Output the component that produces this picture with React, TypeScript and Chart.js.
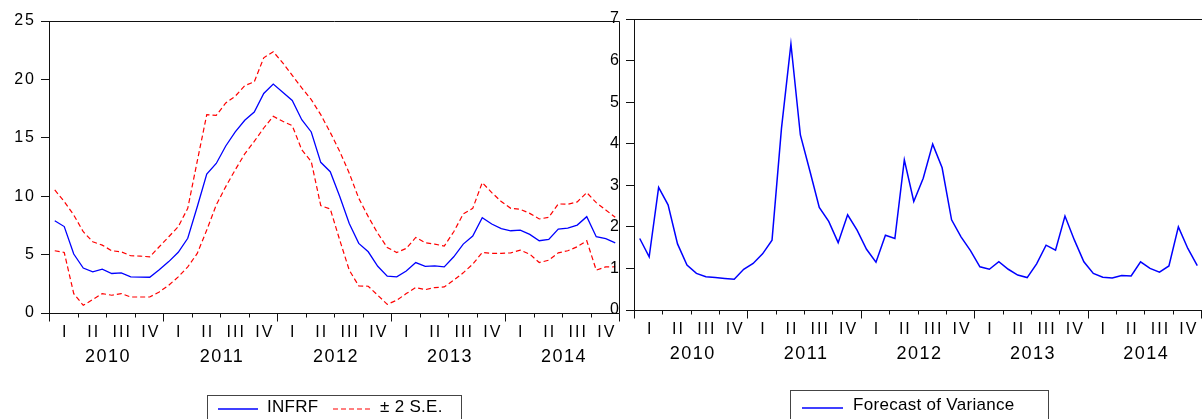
import React, { useEffect, useRef } from 'react';
import { Chart, registerables } from 'chart.js';

Chart.register(...registerables);

// ---- data ----
const years = ['2010', '2011', '2012', '2013', '2014'];
const quarterLabels = ['I', 'II', 'III', 'IV'];

const infrf = [
  7.9, 7.4, 5.05, 3.85, 3.52, 3.75, 3.38, 3.44, 3.1, 3.08, 3.06, 3.7,
  4.4, 5.2, 6.4, 9.1, 11.9, 12.8, 14.3, 15.5, 16.5, 17.2, 18.8, 19.6,
  18.9, 18.2, 16.55, 15.5, 12.9, 12.1, 9.97, 7.67, 5.96, 5.24, 4.0, 3.15,
  3.09, 3.6, 4.32, 4.0, 4.04, 3.95, 4.81, 5.9, 6.59, 8.16, 7.62, 7.22,
  7.04, 7.1, 6.73, 6.19, 6.3, 7.19, 7.27, 7.53, 8.25, 6.53, 6.36, 6.0,
];
const upperSE = [
  10.54, 9.54, 8.39, 6.96, 6.1, 5.81, 5.33, 5.24, 4.9, 4.87, 4.81, 5.67,
  6.53, 7.39, 8.96, 13.0, 16.98, 16.92, 17.98, 18.56, 19.47, 19.79, 21.85, 22.37,
  21.42, 20.35, 19.27, 18.27, 16.98, 15.46, 13.83, 11.97, 9.82, 8.25, 6.82, 5.61,
  5.18, 5.53, 6.47, 6.01, 5.9, 5.73, 6.96, 8.48, 8.96, 11.17, 10.31, 9.54,
  8.96, 8.88, 8.53, 8.05, 8.19, 9.34, 9.31, 9.51, 10.31, 9.45, 8.82, 8.2,
];
const lowerSE = [
  5.33, 5.18, 1.66, 0.66, 1.15, 1.66, 1.52, 1.66, 1.37, 1.37, 1.37, 1.8,
  2.38, 3.09, 3.95, 5.1, 7.1, 9.25, 10.82, 12.26, 13.63, 14.69, 15.84, 16.84,
  16.41, 16.04, 13.97, 12.97, 9.19, 8.91, 6.24, 3.67, 2.32, 2.29, 1.52, 0.74,
  1.09, 1.66, 2.18, 2.0, 2.18, 2.23, 2.81, 3.44, 4.18, 5.18, 5.1, 5.1,
  5.15, 5.38, 5.04, 4.32, 4.52, 5.15, 5.33, 5.67, 6.19, 3.67, 3.95, 3.96,
];
const variance = [
  1.72, 1.28, 2.95, 2.53, 1.59, 1.08, 0.88, 0.8, 0.78, 0.76, 0.74, 0.98,
  1.12, 1.35, 1.68, 4.37, 6.4, 4.21, 3.35, 2.47, 2.13, 1.62, 2.29, 1.92,
  1.46, 1.15, 1.8, 1.72, 3.61, 2.61, 3.17, 3.99, 3.42, 2.17, 1.76, 1.43,
  1.04, 0.98, 1.16, 0.98, 0.84, 0.78, 1.11, 1.56, 1.44, 2.26, 1.68, 1.16,
  0.88, 0.79, 0.77, 0.83, 0.82, 1.16, 1.0, 0.91, 1.06, 2.0, 1.48, 1.07,
];

const FONT = '"Liberation Sans", Arial, sans-serif';
const toXY = (arr: number[]) => arr.map((v, i) => ({ x: i + 0.5, y: v }));
const crisp = (v: number) => Math.round(v) + 0.5;

const spacingPlugin = {
  id: 'eviewsSpacing',
  beforeDraw(chart: any) {
    (chart.ctx as any).letterSpacing = '2px';
  },
};

const framePlugin = {
  id: 'eviewsFrame',
  afterDraw(chart: any, _args: any, opts: any) {
    const { ctx, chartArea: a, scales } = chart;
    const xs = scales.x;
    const L = crisp(a.left - 1);
    const R = crisp(a.right - 1);
    const T = crisp(a.top);
    const B = crisp(a.bottom);
    ctx.save();
    ctx.strokeStyle = '#111';
    ctx.lineWidth = 1;
    ctx.beginPath();
    ctx.moveTo(L, T);
    ctx.lineTo(L, B);
    ctx.lineTo(opts.drawRight ? R : a.right, B);
    ctx.moveTo(L, T);
    ctx.lineTo(opts.drawRight ? R : a.right, T);
    if (opts.drawRight) {
      ctx.moveTo(R, T);
      ctx.lineTo(R, B);
    }
    const nQ = years.length * 4;
    for (let q = 0; q <= nQ; q++) {
      let px = crisp(xs.getPixelForValue(q * 3) - 1);
      if (q === 0) px = L;
      if (q === nQ && opts.drawRight) px = R;
      const len = q % 4 === 0 ? 8 : 4;
      ctx.moveTo(px, B);
      ctx.lineTo(px, B + len);
    }
    ctx.stroke();
    ctx.fillStyle = '#000';
    ctx.textAlign = 'center';
    ctx.textBaseline = 'middle';
    (ctx as any).letterSpacing = '2px';
    ctx.font = '16px ' + FONT;
    years.forEach((_yr, yi) => {
      quarterLabels.forEach((ql, qi) => {
        const px = xs.getPixelForValue(yi * 12 + qi * 3 + 1.5);
        ctx.fillText(ql, px + 1, a.bottom + 20);
      });
    });
    (ctx as any).letterSpacing = '1.5px';
    ctx.font = '18px ' + FONT;
    years.forEach((yr, yi) => {
      const px = xs.getPixelForValue(yi * 12 + 6);
      ctx.fillText(yr, px + 1, a.bottom + 44);
    });
    ctx.restore();
  },
};

function makeChart(canvas: HTMLCanvasElement, datasets: any[], yMax: number, step: number, pad: any, yWidth: number, drawRight: boolean) {
  return new Chart(canvas, {
    type: 'line',
    data: { datasets },
    options: {
      animation: false,
      responsive: false,
      maintainAspectRatio: false,
      layout: { padding: pad },
      plugins: {
        legend: { display: false },
        tooltip: { enabled: false },
        eviewsFrame: { drawRight },
      } as any,
      elements: { point: { radius: 0 }, line: { tension: 0 } },
      scales: {
        x: { type: 'linear', min: 0, max: 60, display: false },
        y: {
          min: 0,
          max: yMax,
          ticks: { stepSize: step, color: '#000', font: { family: FONT, size: 16 }, padding: 5 },
          grid: { drawOnChartArea: false, drawTicks: true, tickLength: 9, color: '#111', lineWidth: 1 },
          border: { display: false },
          afterFit: (s: any) => { s.width = yWidth; },
        },
      },
    },
    plugins: [spacingPlugin, framePlugin],
  });
}

export default function App() {
  const leftRef = useRef<HTMLCanvasElement>(null);
  const rightRef = useRef<HTMLCanvasElement>(null);

  useEffect(() => {
    const c1 = makeChart(
      leftRef.current!,
      [
        { label: 'INFRF', data: toXY(infrf), borderColor: '#0000ff', borderWidth: 1.3 },
        { label: '± 2 S.E.', data: toXY(upperSE), borderColor: '#ff0000', borderWidth: 1.2, borderDash: [5, 3] },
        { label: '± 2 S.E. (lower)', data: toXY(lowerSE), borderColor: '#ff0000', borderWidth: 1.2, borderDash: [5, 3] },
      ],
      25, 5,
      { top: 21, right: 2, bottom: 106, left: 0 },
      50, true,
    );
    const c2 = makeChart(
      rightRef.current!,
      [{ label: 'Forecast of Variance', data: toXY(variance), borderColor: '#0000ff', borderWidth: 1.5 }],
      7, 1,
      { top: 19, right: 0, bottom: 109, left: 0 },
      45, false,
    );
    return () => { c1.destroy(); c2.destroy(); };
  }, []);

  const text: React.CSSProperties = { position: 'absolute', fontFamily: FONT, fontSize: 17, lineHeight: '20px', color: '#000', whiteSpace: 'nowrap', letterSpacing: '0.3px' };

  return (
    <div style={{ position: 'absolute', left: 0, top: 0, width: 1202, height: 419, overflow: 'hidden', background: '#fff' }}>
      <canvas ref={leftRef} width={622} height={419} style={{ position: 'absolute', left: 0, top: 0, width: 622, height: 419 }} />
      <canvas ref={rightRef} width={612} height={419} style={{ position: 'absolute', left: 590, top: 0, width: 612, height: 419 }} />
      {/* left legend */}
      <div style={{ position: 'absolute', left: 207, top: 395, width: 253, height: 40, border: '1px solid #444' }} />
      <svg style={{ position: 'absolute', left: 218, top: 405, width: 40, height: 8 }}>
        <line x1={0} y1={4} x2={40} y2={4} stroke="#0000ff" strokeWidth={1.3} />
      </svg>
      <span style={{ ...text, left: 267, top: 397 }}>INFRF</span>
      <svg style={{ position: 'absolute', left: 333, top: 405, width: 40, height: 8 }}>
        <line x1={0} y1={4} x2={40} y2={4} stroke="#ff0000" strokeWidth={1.2} strokeDasharray="5 3" />
      </svg>
      <span style={{ ...text, left: 380, top: 397 }}>± 2 S.E.</span>
      {/* right legend */}
      <div style={{ position: 'absolute', left: 790, top: 390, width: 257, height: 40, border: '1px solid #444' }} />
      <svg style={{ position: 'absolute', left: 802, top: 404, width: 41, height: 8 }}>
        <line x1={0} y1={4} x2={41} y2={4} stroke="#0000ff" strokeWidth={1.3} />
      </svg>
      <span style={{ ...text, left: 853, top: 395 }}>Forecast of Variance</span>
    </div>
  );
}
